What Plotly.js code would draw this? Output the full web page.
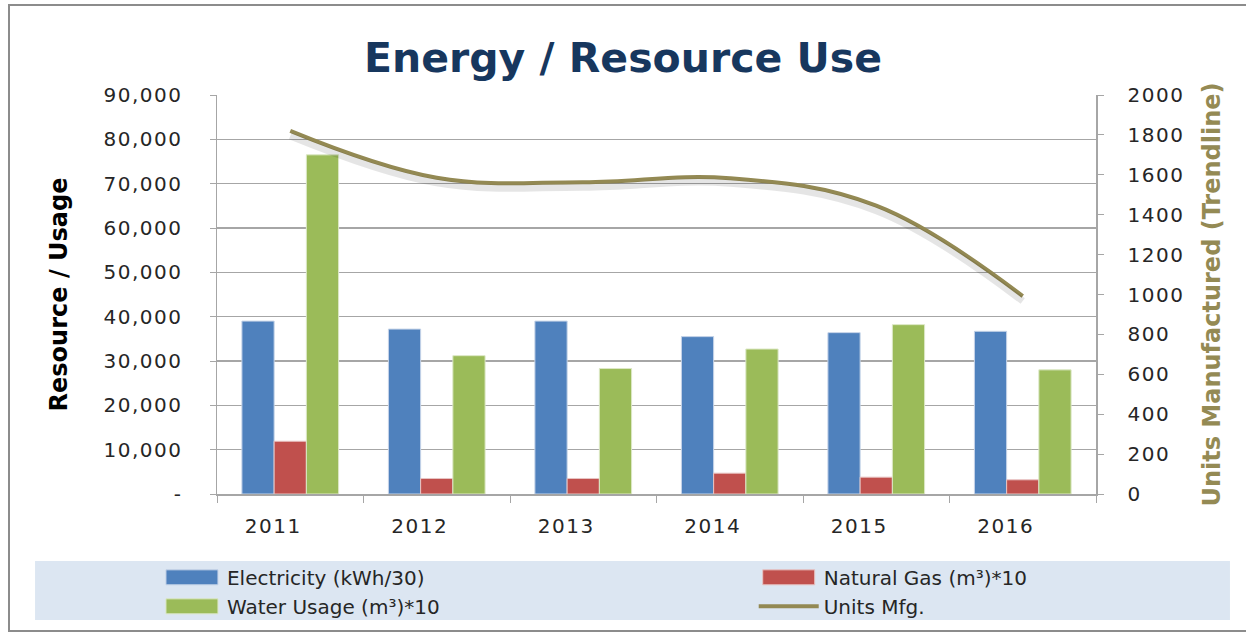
<!DOCTYPE html>
<html>
<head>
<meta charset="utf-8">
<script src="https://cdn.plot.ly/plotly-3.0.1.min.js"></script>
<style>
  html, body { margin: 0; padding: 0; background: #ffffff; }
  #frame { position: absolute; left: 8px; top: 4px; width: 1250px; height: 628px; border: 2px solid #8c8c8c; box-sizing: border-box; }
  #chart { position: absolute; left: 0; top: 0; width: 1246px; height: 641px; }
  #chart .xtick text, #chart .ytick text, #chart .y2tick text { letter-spacing: 1.5px; }
</style>
</head>
<body>
<div id="frame"></div>
<div id="chart"></div>
<script>
const years = ['2011', '2012', '2013', '2014', '2015', '2016'];
const electricity = [39000, 37200, 39000, 35500, 36400, 36700];
const naturalGas = [11900, 3500, 3500, 4700, 3800, 3200];
const waterUsage = [76500, 31200, 28300, 32700, 38200, 28000];
const unitsMfg = [1820, 1585, 1563, 1583, 1445, 992];
const leftTickVals = [0, 10000, 20000, 30000, 40000, 50000, 60000, 70000, 80000, 90000];
const leftTickText = ['-', '10,000', '20,000', '30,000', '40,000', '50,000', '60,000', '70,000', '80,000', '90,000'];

const FONT = '"DejaVu Sans", "Open Sans", sans-serif';
const TXT = '#262626';

const traces = [
  { type: 'bar', name: 'Electricity (kWh/30)', x: years, y: electricity, legend: 'legend',
    marker: { color: '#4F81BD', line: { color: '#C6D4E8', width: 1 } } },
  { type: 'bar', name: 'Natural Gas (m³)*10', x: years, y: naturalGas, legend: 'legend2',
    marker: { color: '#C0504D', line: { color: '#E8C4C3', width: 1 } } },
  { type: 'bar', name: 'Water Usage (m³)*10', x: years, y: waterUsage, legend: 'legend',
    marker: { color: '#9BBB59', line: { color: '#DCE8C6', width: 1 } } },
  { type: 'scatter', mode: 'lines', name: 'Units Mfg. shadow', x: years, y: unitsMfg,
    yaxis: 'y3', showlegend: false, hoverinfo: 'skip',
    line: { color: 'rgba(0,0,0,0.10)', width: 7, shape: 'spline', smoothing: 1.1 } },
  { type: 'scatter', mode: 'lines', name: 'Units Mfg.', x: years, y: unitsMfg, legend: 'legend2',
    yaxis: 'y2',
    line: { color: '#938953', width: 4, shape: 'spline', smoothing: 1.1 } }
];

const legendCommon = {
  orientation: 'v', yanchor: 'top', xanchor: 'left', bgcolor: 'rgba(0,0,0,0)',
  font: { family: FONT, size: 20, color: TXT }, tracegroupgap: 0, itemwidth: 60, traceorder: 'normal'
};

const layout = {
  width: 1246, height: 641,
  margin: { l: 217, r: 150, t: 95, b: 147 },
  paper_bgcolor: 'rgba(0,0,0,0)',
  plot_bgcolor: 'rgba(0,0,0,0)',
  font: { family: FONT, size: 20, color: TXT },
  title: { text: '<b>Energy / Resource Use</b>', x: 0.5, xanchor: 'center', y: 0.91, yanchor: 'middle',
    font: { family: FONT, size: 41, color: '#17375E' } },
  barmode: 'group', bargap: 0.34, bargroupgap: 0,
  showlegend: true,
  legend: Object.assign({}, legendCommon, { x: -0.0683, y: -0.16 }),
  legend2: Object.assign({}, legendCommon, { x: 0.6106, y: -0.16 }),
  xaxis: { type: 'category', range: [-0.5, 5.5], showgrid: false, showline: true, linecolor: '#A6A6A6', linewidth: 1.5,
    ticks: 'outside', tickson: 'boundaries', ticklen: 7, tickcolor: '#A6A6A6', ticklabelstandoff: 13,
    ticklabelshift: -17,
    tickfont: { family: FONT, size: 20, color: TXT }, fixedrange: true },
  yaxis: { range: [0, 90000], tickvals: leftTickVals, ticktext: leftTickText, showgrid: true, gridcolor: '#A6A6A6', gridwidth: 1.3,
    showline: true, linecolor: '#A6A6A6', linewidth: 1.5, ticks: 'outside', ticklen: 6, tickcolor: '#A6A6A6',
    ticklabelstandoff: 23, zeroline: false,
    tickfont: { family: FONT, size: 20, color: TXT },
    title: { text: '<b>Resource / Usage</b>', standoff: 38, font: { family: FONT, size: 24, color: '#000000' } }, fixedrange: true },
  yaxis2: { range: [0, 2000], dtick: 200, overlaying: 'y', side: 'right', showgrid: false, zeroline: false,
    showline: true, linecolor: '#A6A6A6', linewidth: 1.5, ticks: 'outside', ticklen: 6, tickcolor: '#A6A6A6',
    ticklabelstandoff: 20,
    tickfont: { family: FONT, size: 20, color: TXT },
    title: { text: '<b>Units Manufactured (Trendline)</b>', standoff: 26, font: { family: FONT, size: 24, color: '#948A54' } }, fixedrange: true },
  yaxis3: { range: [25, 2025], overlaying: 'y', visible: false, fixedrange: true },
  shapes: [
    { type: 'rect', xref: 'paper', yref: 'paper', x0: -0.207, x1: 1.1524, y0: -0.316, y1: -0.168,
      fillcolor: '#DCE6F2', line: { width: 0 }, layer: 'below' }
  ]
};

Plotly.newPlot('chart', traces, layout, { displayModeBar: false, staticPlot: true }).then(function (gd) {
  // widen the bar swatches in the legends to match the long rectangles of the original
  gd.querySelectorAll('.legendpoints path').forEach(function (p) {
    const d = p.getAttribute('d') || '';
    if (/H-6V-6/.test(d)) p.setAttribute('d', 'M26,7.5H-26V-7.5H26Z');
  });
});
</script>
</body>
</html>
